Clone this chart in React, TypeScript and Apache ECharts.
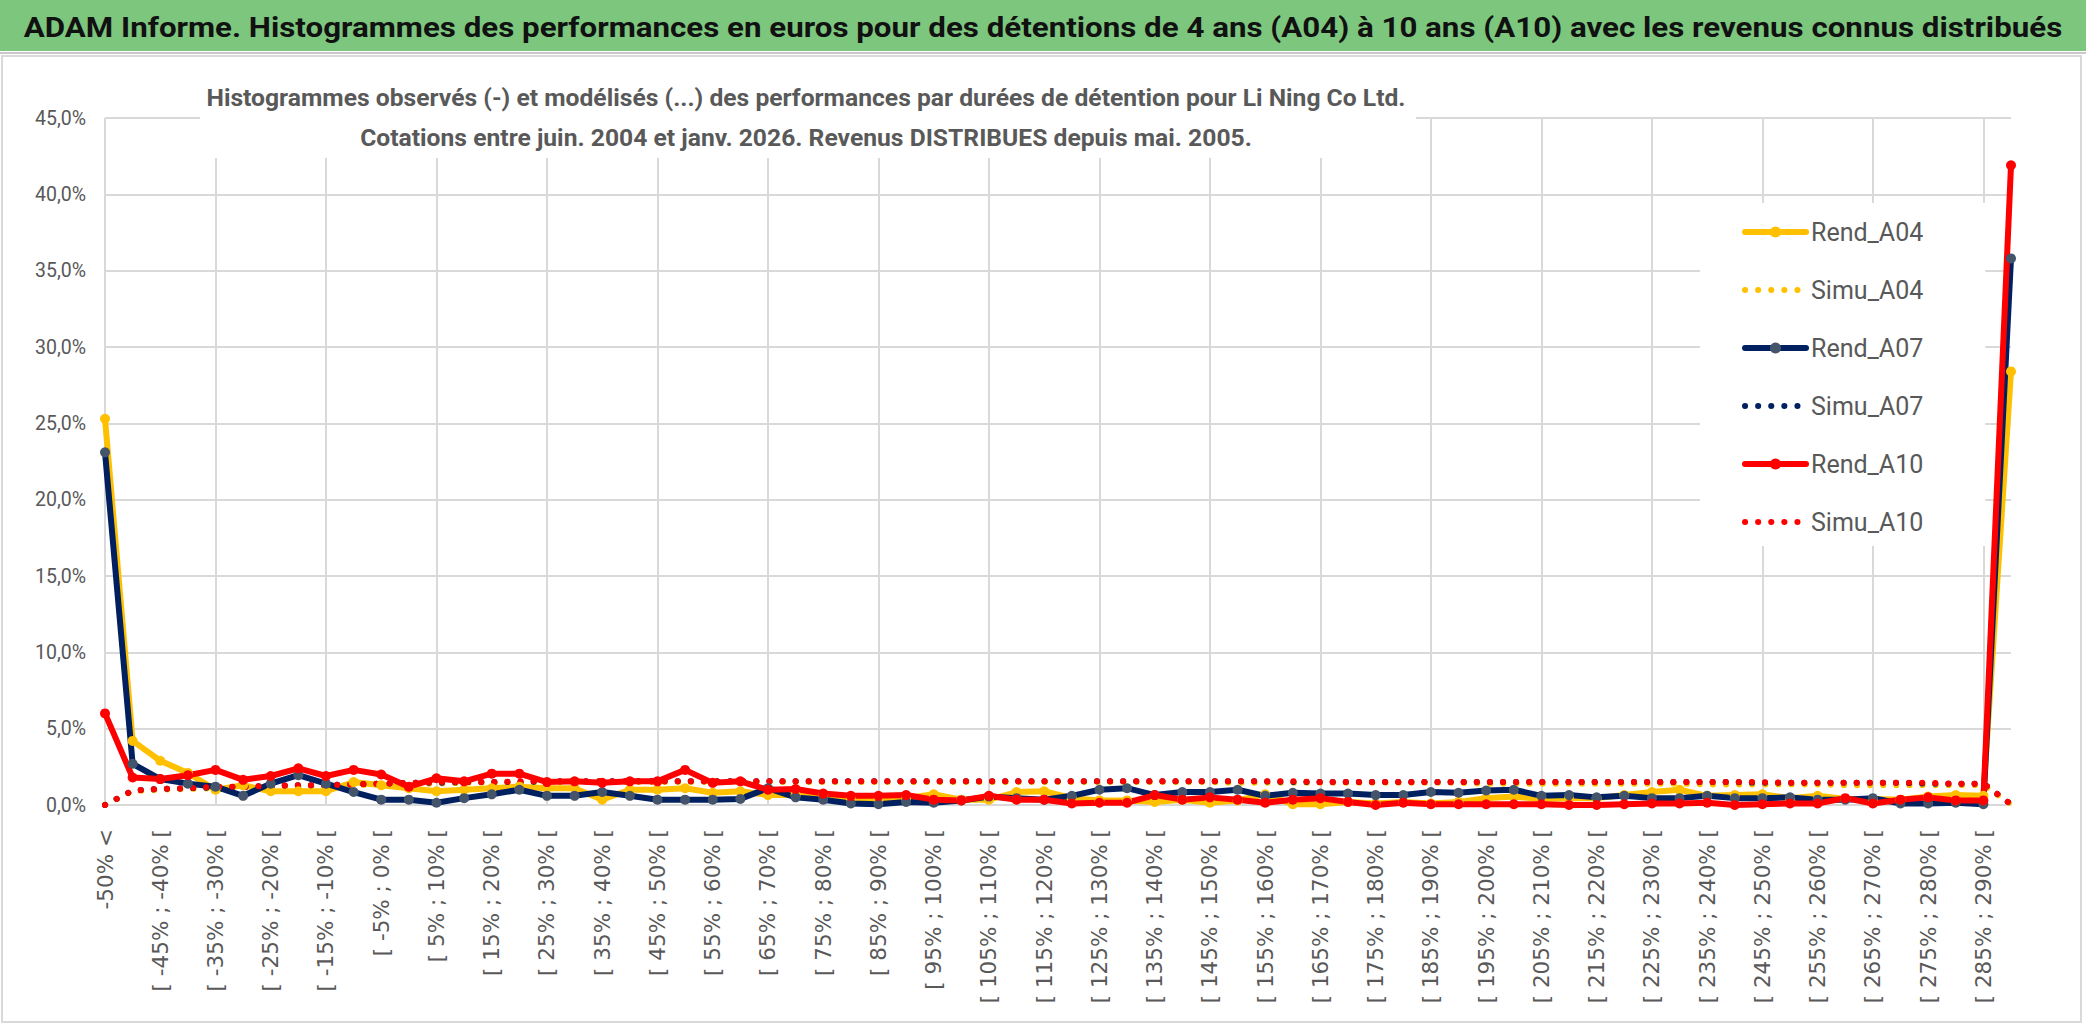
import { useEffect, useRef } from 'react'
import * as echarts from 'echarts'

// lower bounds of the 5% return buckets, the first and last buckets are open
const bucketStarts = [
  -50, -45, -40, -35, -30, -25, -20, -15, -10, -5, 0, 5, 10, 15, 20, 25, 30, 35, 40, 45, 50, 55, 60,
  65, 70, 75, 80, 85, 90, 95, 100, 105, 110, 115, 120, 125, 130, 135, 140, 145, 150, 155, 160, 165,
  170, 175, 180, 185, 190, 195, 200, 205, 210, 215, 220, 225, 230, 235, 240, 245, 250, 255, 260,
  265, 270, 275, 280, 285,
]
const categories = ['-50% <', ...bucketStarts.map((b) => `[ ${b}% ; ${b + 5}% [`), '> 290%']

// values in %
const rendA04 = [
  25.3, 4.2, 2.9, 2.1, 1.0, 1.3, 0.9, 0.9, 0.9, 1.5, 1.3, 1.1, 0.9, 1.0, 1.1, 1.2, 1.1, 1.1, 0.35,
  1.0, 1.0, 1.1, 0.8, 0.9, 0.65, 0.65, 0.7, 0.45, 0.35, 0.45, 0.7, 0.35, 0.35, 0.85, 0.9, 0.45, 0.3,
  0.3, 0.2, 0.35, 0.15, 0.3, 0.7, 0.05, 0.05, 0.2, 0.1, 0.2, 0.1, 0.2, 0.45, 0.55, 0.4, 0.45, 0.45,
  0.65, 0.85, 1.0, 0.6, 0.65, 0.7, 0.45, 0.6, 0.4, 0.4, 0.35, 0.55, 0.65, 0.6, 28.4,
]
const simuA04 = [
  0.0, 0.9, 1.0, 1.05, 1.1, 1.15, 1.2, 1.25, 1.25, 1.3, 1.35, 1.4, 1.4, 1.45, 1.45, 1.45, 1.5, 1.5,
  1.5, 1.5, 1.5, 1.5, 1.5, 1.5, 1.5, 1.5, 1.5, 1.5, 1.5, 1.5, 1.5, 1.5, 1.5, 1.5, 1.5, 1.5, 1.5,
  1.5, 1.5, 1.5, 1.5, 1.45, 1.45, 1.45, 1.45, 1.45, 1.45, 1.45, 1.45, 1.45, 1.4, 1.4, 1.4, 1.4, 1.4,
  1.4, 1.4, 1.4, 1.35, 1.35, 1.35, 1.35, 1.35, 1.3, 1.3, 1.3, 1.3, 1.3, 1.3, 0.05,
]
const rendA07 = [
  23.1, 2.7, 1.7, 1.4, 1.2, 0.6, 1.4, 1.95, 1.4, 0.85, 0.35, 0.35, 0.15, 0.45, 0.7, 1.0, 0.6, 0.6,
  0.85, 0.6, 0.35, 0.35, 0.35, 0.4, 1.1, 0.5, 0.35, 0.1, 0.05, 0.2, 0.15, 0.3, 0.55, 0.45, 0.35, 0.6,
  1.0, 1.1, 0.65, 0.85, 0.85, 1.0, 0.6, 0.8, 0.75, 0.75, 0.65, 0.65, 0.85, 0.8, 0.95, 1.0, 0.6, 0.65,
  0.5, 0.6, 0.45, 0.45, 0.6, 0.45, 0.45, 0.5, 0.35, 0.35, 0.45, 0.1, 0.1, 0.15, 0.05, 35.8,
]
const simuA07 = [
  0.0, 0.95, 1.05, 1.1, 1.15, 1.2, 1.25, 1.3, 1.3, 1.35, 1.4, 1.45, 1.45, 1.5, 1.5, 1.5, 1.55, 1.55,
  1.55, 1.55, 1.55, 1.55, 1.55, 1.55, 1.55, 1.55, 1.55, 1.55, 1.55, 1.55, 1.55, 1.55, 1.55, 1.55,
  1.55, 1.55, 1.55, 1.55, 1.55, 1.55, 1.55, 1.55, 1.55, 1.5, 1.5, 1.5, 1.5, 1.5, 1.5, 1.5, 1.5, 1.5,
  1.5, 1.5, 1.5, 1.5, 1.5, 1.5, 1.5, 1.5, 1.45, 1.45, 1.45, 1.45, 1.45, 1.45, 1.4, 1.4, 1.4, 0.05,
]
const rendA10 = [
  6.0, 1.8, 1.7, 1.95, 2.3, 1.65, 1.9, 2.4, 1.9, 2.3, 2.0, 1.2, 1.75, 1.55, 2.05, 2.05, 1.5, 1.55,
  1.45, 1.55, 1.55, 2.3, 1.45, 1.55, 1.0, 1.05, 0.75, 0.6, 0.6, 0.65, 0.35, 0.3, 0.6, 0.35, 0.35, 0.1,
  0.15, 0.15, 0.65, 0.35, 0.5, 0.35, 0.15, 0.35, 0.45, 0.2, 0.0, 0.15, 0.05, 0.05, 0.05, 0.05, 0.05,
  0.0, 0.0, 0.05, 0.1, 0.1, 0.15, 0.0, 0.05, 0.1, 0.1, 0.45, 0.1, 0.35, 0.5, 0.3, 0.3, 41.9,
]
const simuA10 = [
  0.0, 0.95, 1.05, 1.1, 1.2, 1.2, 1.25, 1.3, 1.3, 1.35, 1.4, 1.45, 1.5, 1.5, 1.5, 1.55, 1.55, 1.55,
  1.55, 1.55, 1.55, 1.55, 1.55, 1.55, 1.55, 1.55, 1.55, 1.55, 1.55, 1.55, 1.55, 1.55, 1.55, 1.55,
  1.55, 1.55, 1.55, 1.55, 1.55, 1.55, 1.55, 1.55, 1.55, 1.55, 1.5, 1.5, 1.5, 1.5, 1.5, 1.5, 1.5, 1.5,
  1.5, 1.5, 1.5, 1.5, 1.5, 1.5, 1.5, 1.5, 1.5, 1.45, 1.45, 1.45, 1.45, 1.45, 1.45, 1.4, 1.4, 0.05,
]

const mainTitle =
  'ADAM Informe. Histogrammes des performances en euros pour des détentions de 4 ans (A04) à 10 ans (A10) avec les revenus connus distribués'
const subTitle1 =
  'Histogrammes observés (-) et modélisés (...) des performances par durées de détention pour Li Ning Co Ltd.'
const subTitle2 = 'Cotations entre juin. 2004 et janv. 2026. Revenus DISTRIBUES depuis mai. 2005.'

const FONT = "Roboto, 'Liberation Sans', sans-serif"
const GREY = '#595959'

const YELLOW = '#FFC000'
const NAVY = '#002060'
const NAVY_MARK = '#44546A'
const RED = '#FF0000'

// the reference uses a narrow font, so wide texts are squeezed to the width they have there
function squeeze(text: string, font: string, target: number) {
  const ctx = document.createElement('canvas').getContext('2d')
  if (!ctx) return 1
  ctx.font = font
  const w = ctx.measureText(text).width
  return w > 0 ? target / w : 1
}

function rend(name: string, data: number[], color: string, markColor: string) {
  return {
    name,
    type: 'line',
    data,
    symbol: 'circle',
    symbolSize: 10,
    itemStyle: { color: markColor },
    lineStyle: { color, width: 6, cap: 'round', join: 'round' },
  }
}

function simu(name: string, data: number[], color: string) {
  return {
    name,
    type: 'line',
    data,
    symbol: 'none',
    itemStyle: { color },
    lineStyle: { color, width: 6, type: [0.1, 13], cap: 'round' },
  }
}

export default function App() {
  const chartRef = useRef<HTMLDivElement>(null)

  useEffect(() => {
    document.body.style.margin = '0'
    if (!chartRef.current) return
    const chart = echarts.init(chartRef.current, null, { renderer: 'svg' })

    const titleFont = `bold 28px ${FONT}`
    const subFont = `bold 24px ${FONT}`
    const titleScale = squeeze(mainTitle, titleFont, 2040)
    const subScale = squeeze(subTitle1, subFont, 1200)

    const option = {
      animation: false,
      backgroundColor: '#fff',
      graphic: [
        { type: 'rect', z: -10, shape: { x: 0, y: 0, width: 2086, height: 51 }, style: { fill: '#7DC67E' } },
        { type: 'rect', z: -10, shape: { x: 0, y: 52, width: 2086, height: 2 }, style: { fill: '#c8c8c8' } },
        {
          type: 'rect',
          z: -10,
          shape: { x: 2, y: 56, width: 2079, height: 966 },
          style: { fill: '#fff', stroke: '#d9d9d9', lineWidth: 2 },
        },
        {
          type: 'text',
          z: 10,
          x: 1043,
          y: 27,
          scaleX: titleScale,
          style: {
            text: mainTitle,
            fill: '#111',
            font: titleFont,
            align: 'center',
            verticalAlign: 'middle',
          },
        },
        {
          type: 'rect',
          z: 50,
          shape: { x: 200, y: 62, width: 1216, height: 96 },
          style: { fill: '#fff' },
        },
        {
          type: 'text',
          z: 51,
          x: 806,
          y: 98,
          scaleX: subScale,
          style: { text: subTitle1, fill: GREY, font: subFont, align: 'center', verticalAlign: 'middle' },
        },
        {
          type: 'text',
          z: 51,
          x: 806,
          y: 138,
          scaleX: subScale,
          style: { text: subTitle2, fill: GREY, font: subFont, align: 'center', verticalAlign: 'middle' },
        },
      ],
      legend: {
        orient: 'vertical',
        left: 1700,
        top: 203,
        padding: [14, 62, 9, 42],
        backgroundColor: '#fff',
        itemWidth: 61,
        itemHeight: 14,
        itemGap: 28,
        lineStyle: { width: 'inherit' },
        textStyle: { fontFamily: FONT, fontSize: 25, color: GREY, lineHeight: 30 },
        data: [
          'Rend_A04',
          { name: 'Simu_A04', itemStyle: { opacity: 0 } },
          'Rend_A07',
          { name: 'Simu_A07', itemStyle: { opacity: 0 } },
          'Rend_A10',
          { name: 'Simu_A10', itemStyle: { opacity: 0 } },
        ],
      },
      grid: { left: 105, right: 75, top: 118, bottom: 226 },
      xAxis: {
        type: 'category',
        data: categories,
        boundaryGap: false,
        axisLine: { lineStyle: { color: '#d9d9d9', width: 2 } },
        axisTick: { show: false },
        axisLabel: {
          interval: 1,
          rotate: 90,
          margin: 24,
          color: GREY,
          fontFamily: "'DejaVu Sans', Verdana, sans-serif",
          fontSize: 21.5,
        },
        splitLine: { show: true, interval: 3, lineStyle: { color: '#d9d9d9', width: 2 } },
      },
      yAxis: {
        type: 'value',
        min: 0,
        max: 45,
        interval: 5,
        axisLine: { show: false },
        axisTick: { show: false },
        axisLabel: {
          margin: 19,
          color: GREY,
          fontFamily: FONT,
          fontSize: 19.5,
          formatter: (v: number) => v.toFixed(1).replace('.', ',') + '%',
        },
        splitLine: { lineStyle: { color: '#d9d9d9', width: 2 } },
      },
      series: [
        rend('Rend_A04', rendA04, YELLOW, YELLOW),
        simu('Simu_A04', simuA04, YELLOW),
        rend('Rend_A07', rendA07, NAVY, NAVY_MARK),
        simu('Simu_A07', simuA07, NAVY),
        rend('Rend_A10', rendA10, RED, RED),
        simu('Simu_A10', simuA10, RED),
      ],
    }

    chart.setOption(option)

    return () => {
      chart.dispose()
    }
  }, [])

  return <div ref={chartRef} style={{ width: 2086, height: 1031 }} />
}
